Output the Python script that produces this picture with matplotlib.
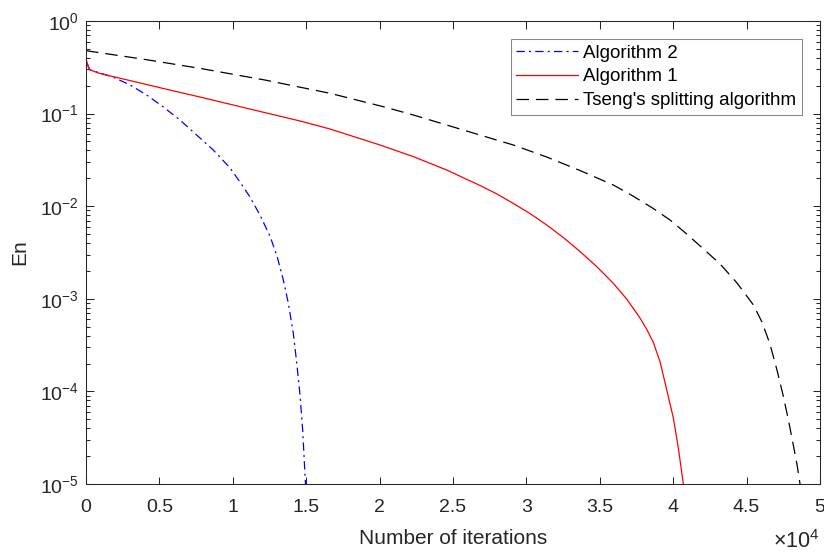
import matplotlib
matplotlib.use('Agg')
import matplotlib.pyplot as plt
from matplotlib.ticker import FixedLocator, LogLocator, NullFormatter

plt.rcParams['font.family'] = ['Liberation Sans', 'DejaVu Sans']
plt.rcParams['mathtext.fontset'] = 'custom'
plt.rcParams['mathtext.rm'] = 'Liberation Sans'
plt.rcParams['axes.unicode_minus'] = False
plt.rcParams['lines.scale_dashes'] = False

# values (iterations, En)
iters_alg2 = [0, 20, 157, 272, 750, 1860, 3000, 4130, 5265, 6400, 7540, 8670, 9810,
              10490, 11170, 11850, 12530, 13010, 13440, 13780, 14120, 14370, 14580,
              14760, 14950]
en_alg2 = [0.868, 0.379, 0.321, 0.296, 0.281, 0.247, 0.204, 0.159, 0.118, 0.0853,
           0.0587, 0.0404, 0.0259, 0.01825, 0.01257, 0.00803, 0.00477, 0.0029, 0.0016,
           9.0e-4, 4.27e-4, 1.93e-4, 9.1e-5, 3.83e-5, 1e-5]

iters_alg1 = [0, 20, 157, 272, 954, 1840, 3540, 5245, 7766, 11170, 14580, 16620, 18320,
              20030, 22300, 24570, 26840, 28000, 29110, 30245, 31380, 32515, 33650,
              34790, 35920, 36830, 37740, 38190, 38640, 39100, 39560, 40010, 40350, 40690]
en_alg1 = [0.868, 0.379, 0.321, 0.296, 0.271, 0.251, 0.217, 0.187, 0.151, 0.112, 0.0832,
           0.0682, 0.0559, 0.0458, 0.0343, 0.0246, 0.01673, 0.01354, 0.0107, 0.00834,
           0.00627, 0.00459, 0.00324, 0.00223, 0.00147, 9.95e-4, 6.2e-4, 4.7e-4, 3.4e-4,
           2.1e-4, 1.04e-4, 5.16e-5, 2.45e-5, 1e-5]

iters_tseng = [0, 3950, 7766, 12190, 16620, 20250, 22300, 24570, 26840, 29110, 31380,
               33650, 35920, 37260, 38640, 39780, 40920, 42030, 43190, 44350, 45460,
               46050, 46590, 47070, 47500, 47850, 48180, 48430, 48640]
en_tseng = [0.478, 0.386, 0.308, 0.2305, 0.1657, 0.1188, 0.0966, 0.0753, 0.0587, 0.0458,
            0.0340, 0.0243, 0.01694, 0.01288, 0.00945, 0.0071, 0.00501, 0.00349, 0.00238,
            0.00148, 8.6e-4, 5.6e-4, 3.25e-4, 1.70e-4, 8.9e-5, 4.9e-5, 2.64e-5,
            1.64e-5, 1e-5]

xticks = [0, 5000, 10000, 15000, 20000, 25000, 30000, 35000, 40000, 45000, 50000]
xtick_labels = ['0', '0.5', '1', '1.5', '2', '2.5', '3', '3.5', '4', '4.5', '5']

ink = '#262626'

fig = plt.figure(figsize=(8.24, 5.53), dpi=100)
ax = fig.add_axes([86 / 824, 69 / 553, 734 / 824, 463 / 553])

ax.semilogy(iters_alg2, en_alg2, color='blue', lw=0.9, dashes=(6, 3, 1.5, 3), label='Algorithm 2')
ax.semilogy(iters_alg1, en_alg1, color='red', lw=0.9, label='Algorithm 1')
ax.semilogy(iters_tseng, en_tseng, color='black', lw=0.9, dashes=(9, 5), label="Tseng's splitting algorithm")

ax.set_xlim(0, 50000)
ax.set_ylim(1e-5, 1)
ax.xaxis.set_major_locator(FixedLocator(xticks))
ax.set_xticklabels(xtick_labels)
ax.yaxis.set_major_locator(LogLocator(base=10, numticks=10))
ax.yaxis.set_minor_locator(LogLocator(base=10, subs=range(2, 10), numticks=20))
ax.yaxis.set_minor_formatter(NullFormatter())

ax.tick_params(which='both', direction='in', top=True, right=True, colors=ink,
               width=0.75, labelsize=14)
ax.tick_params(which='major', length=5.4)
ax.tick_params(which='minor', length=3.2)
ax.tick_params(axis='x', pad=11)
ax.tick_params(axis='y', pad=5)
for s in ax.spines.values():
    s.set_color(ink)
    s.set_linewidth(0.75)

ax.set_xlabel('Number of iterations', fontsize=15, color=ink, labelpad=9)
ax.set_ylabel('En', fontsize=15, color=ink, labelpad=8)

fig.text(820 / 824, 5 / 553, r'$\times\mathregular{10^{4}}$', ha='right', va='baseline',
         fontsize=15.5, color=ink)

leg = ax.legend(loc='upper right', bbox_to_anchor=(802 / 824, 1 - 39 / 553),
                bbox_transform=fig.transFigure, fontsize=13.5, frameon=True, fancybox=False,
                borderaxespad=0, borderpad=0.3, handlelength=3.3, handletextpad=0.27,
                labelspacing=0.35)
leg.get_frame().set_edgecolor('#6a6a6a')
leg.get_frame().set_linewidth(0.75)

fig.savefig('out.png', dpi=100)
